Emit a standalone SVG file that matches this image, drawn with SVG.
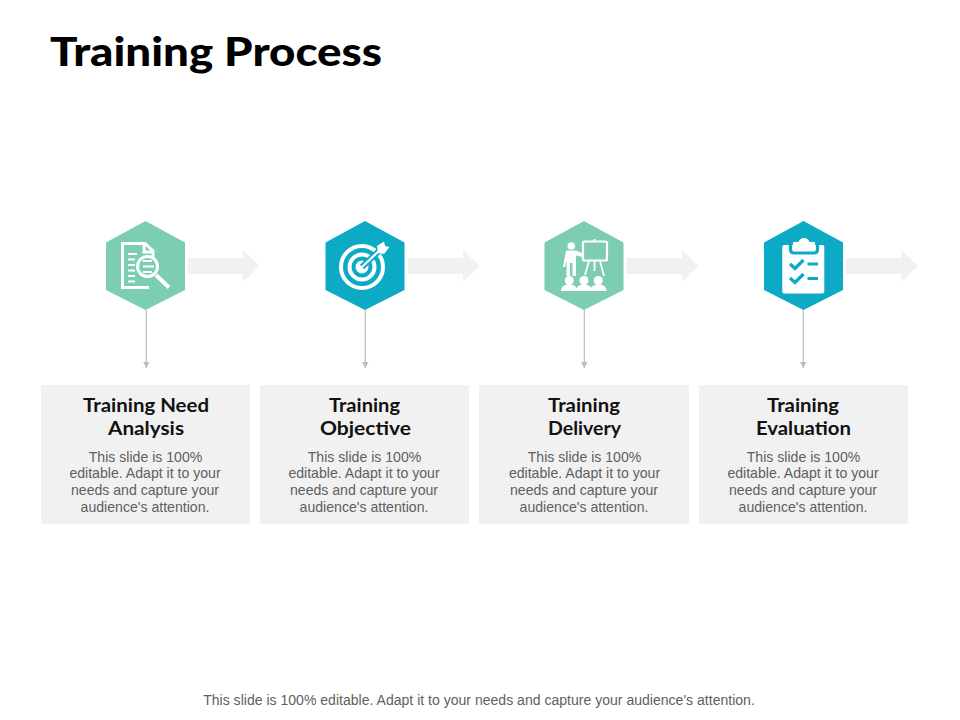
<svg xmlns="http://www.w3.org/2000/svg" width="960" height="720" viewBox="0 0 960 720">
<style>
.title{font-family:Lato,"Liberation Sans",sans-serif;font-weight:900;font-size:40px;fill:#000}
.h{font-family:Lato,"Liberation Sans",sans-serif;font-weight:700;font-size:19.500px;fill:#111;text-anchor:middle}
.b{font-family:"Liberation Sans",Arial,sans-serif;font-size:14.100px;fill:#5f5f5f;text-anchor:middle}
.card{fill:#f1f1f1}
.arrow{fill:#f1f1f1}
.green{fill:#7dcdb2}
.blue{fill:#0caac5}
.w{fill:#fff}
.ws{fill:none;stroke:#fff;stroke-width:3}
.line{stroke:#bdbdbd;stroke-width:1.200;fill:none;marker-end:url(#ah)}
.bs{fill:none;stroke:#0caac5;stroke-width:3.200}
</style>
<defs>
<marker id="ah" markerUnits="userSpaceOnUse" markerWidth="8" markerHeight="8" refX="6.500" refY="4" orient="auto"><path d="M0,0.500L6.500,4L0,7.500Z" fill="#bdbdbd"/></marker>
<polygon id="hex" points="0,-44.500 39.500,-23 39.500,24.500 0,44.500 -39.500,24.500 -39.500,-23"/>
<path id="block" d="M0,-8H55.500V-16L72,0L55.500,16V8H0Z"/>
</defs>
<rect width="960" height="720" fill="#fff"/>
<text class="title" x="50" y="66" textLength="332" lengthAdjust="spacingAndGlyphs">Training Process</text>
<g id="connectors">
<path class="line" d="M146.300 310V368"/>
<path class="line" d="M365.300 310V368"/>
<path class="line" d="M584.300 310V368"/>
<path class="line" d="M803.300 310V368"/>
<use href="#block" class="arrow" x="187.500" y="266"/>
<use href="#block" class="arrow" x="407.500" y="266"/>
<use href="#block" class="arrow" x="626.500" y="266"/>
<use href="#block" class="arrow" x="846" y="266"/>
</g>
<g id="node1">
<use href="#hex" class="green" x="145.500" y="265.500"/>
<path class="ws" d="M153,258V251L145,243.500H122.500V287.500H149"/>
<path class="ws" d="M144,244V252H153" stroke-width="2"/>
<path class="ws" style="stroke-width:2.200" d="M128,254H137M128,259.500H135M128,265H135M128,270.500H135M128,276H135M128,281.500H135"/>
<circle class="ws" cx="147.500" cy="266.500" r="10"/>
<path class="ws" style="stroke-width:1.800" d="M143,261H152M143,266.500H154M143,272H152"/>
<path d="M156,275L169,287.500" fill="none" stroke="#fff" stroke-width="4"/>
<rect class="card" x="41" y="385" width="209" height="139"/>
<text class="h" x="146" y="412" textLength="126" lengthAdjust="spacingAndGlyphs">Training Need</text>
<text class="h" x="146" y="435" textLength="76" lengthAdjust="spacingAndGlyphs">Analysis</text>
<text class="b" x="145.500" y="462">This slide is 100%</text>
<text class="b" x="145" y="478">editable. Adapt it to your</text>
<text class="b" x="145" y="495">needs and capture your</text>
<text class="b" x="145" y="512">audience's attention.</text>
</g>
<g id="node2">
<use href="#hex" class="blue" x="365" y="265.500"/>
<circle cx="362" cy="267" r="21" fill="none" stroke="#fff" stroke-width="4"/>
<circle cx="362" cy="267" r="12.500" fill="none" stroke="#fff" stroke-width="4"/>
<circle class="w" cx="362" cy="267" r="6.500"/>
<path d="M362,267L382,248" fill="none" stroke="#0caac5" stroke-width="6"/>
<path d="M362,267L382,248" fill="none" stroke="#fff" stroke-width="2.200"/>
<path class="w" d="M377,246L384,241.500L385,246L389.500,247L384,254L378,253Z"/>
<rect class="card" x="260" y="385" width="209" height="139"/>
<text class="h" x="364.500" y="412" textLength="71" lengthAdjust="spacingAndGlyphs">Training</text>
<text class="h" x="365.500" y="435" textLength="91" lengthAdjust="spacingAndGlyphs">Objective</text>
<text class="b" x="364.500" y="462">This slide is 100%</text>
<text class="b" x="364" y="478">editable. Adapt it to your</text>
<text class="b" x="364" y="495">needs and capture your</text>
<text class="b" x="364" y="512">audience's attention.</text>
</g>
<g id="node3">
<use href="#hex" class="green" x="584" y="265.500"/>
<circle class="w" cx="571.300" cy="246" r="3.800"/>
<path class="w" d="M566,250.500H576L584,254L583,257L576,255.500V276H572.500V263H570V276H566.500V260L565,267H563Z"/>
<rect x="583" y="241.500" width="24" height="19" rx="1.500" fill="none" stroke="#fff" stroke-width="2.200"/>
<path class="ws" style="stroke-width:1.800" d="M589,261L585,275M594.500,261V271M600,261L604,276"/>
<path class="ws" style="stroke-width:1.800" d="M594.500,241V239"/>
<g class="w">
<circle cx="569.300" cy="280.500" r="4.500"/><path d="M561,291C561,286 565,284.500 569.300,284.500C573.500,284.500 577,286 577,291Z"/>
<circle cx="584" cy="280.500" r="4.500"/><path d="M576,291C576,286 580,284.500 584,284.500C588,284.500 592,286 592,291Z"/>
<circle cx="598.300" cy="280.500" r="4.500"/><path d="M590.500,291C590.500,286 594,284.500 598.300,284.500C602.500,284.500 606.500,286 606.500,291Z"/>
</g>
<rect class="card" x="479" y="385" width="210" height="139"/>
<text class="h" x="584" y="412" textLength="72" lengthAdjust="spacingAndGlyphs">Training</text>
<text class="h" x="584.500" y="435" textLength="73" lengthAdjust="spacingAndGlyphs">Delivery</text>
<text class="b" x="584.500" y="462">This slide is 100%</text>
<text class="b" x="584.500" y="478">editable. Adapt it to your</text>
<text class="b" x="584" y="495">needs and capture your</text>
<text class="b" x="584" y="512">audience's attention.</text>
</g>
<g id="node4">
<use href="#hex" class="blue" x="803.500" y="265.500"/>
<rect class="w" x="782.300" y="245" width="42" height="48.500" rx="2"/>
<path class="bs" d="M790.500,243V249.500Q790.500,253 794,253H814Q817.500,253 817.500,249.500V243"/>
<path class="w" d="M793,242H798.500Q800,238 804,238Q808,238 809.500,242H815V251H793Z"/>
<path class="bs" d="M790,264L795,268.500L803.500,260M790,278L795,282.500L803.500,274"/>
<path class="bs" d="M807.500,264H818M807.500,278.500H818"/>
<rect class="card" x="699" y="385" width="209" height="139"/>
<text class="h" x="803" y="412" textLength="72" lengthAdjust="spacingAndGlyphs">Training</text>
<text class="h" x="803.500" y="435" textLength="95" lengthAdjust="spacingAndGlyphs">Evaluation</text>
<text class="b" x="803.500" y="462">This slide is 100%</text>
<text class="b" x="803" y="478">editable. Adapt it to your</text>
<text class="b" x="803" y="495">needs and capture your</text>
<text class="b" x="803" y="512">audience's attention.</text>
</g>
<text class="b" x="479" y="705" style="font-size:14.050px">This slide is 100% editable. Adapt it to your needs and capture your audience's attention.</text>
</svg>
